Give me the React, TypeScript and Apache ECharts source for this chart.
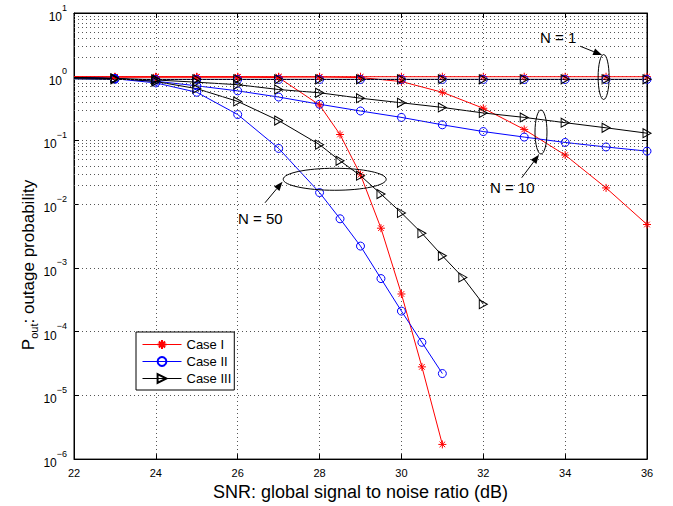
import React, { useEffect, useRef } from "react";
import * as echarts from "echarts";

const FONT = '"Liberation Sans", Arial, Helvetica, sans-serif';

// SNR grids (dB)
const snrFull = [22, 23, 24, 25, 26, 27, 28, 29, 30, 31, 32, 33, 34, 35, 36];
const snrN50a = [22, 23, 24, 25, 26, 27, 28, 28.5, 29, 29.5, 30, 30.5, 31];
const snrN50b = [22, 23, 24, 25, 26, 27, 28, 28.5, 29, 29.5, 30, 30.5, 31, 31.5, 32];

// Case I (red, *)
const caseI_N1 = [1, 1, 1, 1, 1, 1, 1, 1, 1, 1, 1, 1, 1, 1, 1];
const caseI_N10 = [0.99, 0.99, 0.99, 0.99, 0.99, 0.99, 0.99, 0.97, 0.84, 0.57, 0.32, 0.149, 0.059, 0.018, 0.0048];
const caseI_N50 = [0.99, 0.99, 0.99, 0.99, 0.99, 0.97, 0.36, 0.124, 0.029, 0.0042, 0.00039, 2.8e-5, 1.7e-6];

// Case II (blue, o)
const caseII_N1 = [0.93, 0.91, 0.905, 0.905, 0.905, 0.905, 0.905, 0.905, 0.905, 0.905, 0.905, 0.905, 0.905, 0.905, 0.905];
const caseII_N10 = [0.97, 0.94, 0.85, 0.72, 0.6, 0.48, 0.37, 0.29, 0.23, 0.176, 0.138, 0.113, 0.093, 0.079, 0.068];
const caseII_N50 = [0.97, 0.93, 0.8, 0.57, 0.255, 0.075, 0.0152, 0.0059, 0.0022, 0.00068, 0.00021, 6.8e-5, 2.2e-5];

// Case III (black, >)
const caseIII_N1 = [0.93, 0.91, 0.91, 0.91, 0.91, 0.91, 0.91, 0.91, 0.91, 0.91, 0.91, 0.91, 0.91, 0.91, 0.91];
const caseIII_N10 = [0.97, 0.94, 0.89, 0.82, 0.75, 0.63, 0.56, 0.46, 0.39, 0.33, 0.27, 0.23, 0.19, 0.158, 0.13];
const caseIII_N50 = [0.97, 0.94, 0.84, 0.65, 0.41, 0.205, 0.086, 0.048, 0.028, 0.0144, 0.0073, 0.0035, 0.00155, 0.00071, 0.00027];

const legendNames = ["Case I", "Case II", "Case III"];
const xTicks = { min: 22, max: 36, interval: 2 };
const yRange = { min: 1e-6, max: 10 };
const minorDecades = [-6, -5, -4, -3, -2, -1, 0];
const minorMantissas = [2, 3, 4, 5, 6, 7, 8, 9];

const ASTERISK = "path://M5,0L5,10M0,5L10,5M1.5,1.5L8.5,8.5M1.5,8.5L8.5,1.5";
const TRIANGLE = "path://M0,0L10,5L0,10Z";

const styles: Record<string, any> = {
  "Case I": { color: "#ff0000", symbol: ASTERISK, symbolSize: 8 },
  "Case II": { color: "#0000ff", symbol: "circle", symbolSize: 8 },
  "Case III": { color: "#000000", symbol: TRIANGLE, symbolSize: [8, 9] },
};

function makeSeries(name: string, xs: number[], ys: number[]) {
  const st = styles[name];
  return {
    name,
    type: "line",
    xAxisIndex: 0,
    yAxisIndex: 0,
    symbol: st.symbol,
    symbolSize: st.symbolSize,
    showAllSymbol: true,
    lineStyle: { color: st.color, width: 1 },
    itemStyle: { color: "rgba(0,0,0,0)", borderColor: st.color, borderWidth: 1 },
    emphasis: { disabled: true },
    data: xs.map((x, i) => (i === 0 ? { value: [x, ys[i]], symbol: "none" } : [x, ys[i]])),
    z: 3,
  };
}

function arrow(x1: number, y1: number, x2: number, y2: number) {
  const dx = x2 - x1, dy = y2 - y1;
  const L = Math.hypot(dx, dy);
  const ux = dx / L, uy = dy / L;
  const hl = 9, hw = 3.5;
  const bx = x2 - ux * hl, by = y2 - uy * hl;
  return [
    { type: "line", shape: { x1, y1, x2: bx, y2: by }, style: { stroke: "#000", lineWidth: 1 }, z: 10 },
    {
      type: "polygon",
      shape: { points: [[x2, y2], [bx - uy * hw, by + ux * hw], [bx + uy * hw, by - ux * hw]] },
      style: { fill: "#000" },
      z: 10,
    },
  ];
}

export default function App() {
  const ref = useRef<HTMLDivElement>(null);
  useEffect(() => {
    if (!ref.current) return;
    const chart = echarts.init(ref.current, undefined, { renderer: "svg" });
    const minorLines: any[] = [];
    minorDecades.forEach((k) => minorMantissas.forEach((m) => minorLines.push({ yAxis: m * Math.pow(10, k) })));
    const gridLine = { show: true, lineStyle: { color: "#555", type: [1, 3], width: 1 } };
    const supLabel = (v: number) => {
      const e = Math.round(Math.log10(v));
      return "{b|10}{s|" + (e < 0 ? "\u2212" + -e : String(e)) + "}";
    };
    chart.setOption({
      animation: false,
      backgroundColor: "#fff",
      textStyle: { fontFamily: FONT },
      grid: { left: 74, right: 26, top: 13, bottom: 42, show: true, borderColor: "#000", borderWidth: 1, backgroundColor: "#fff" },
      legend: {
        data: legendNames,
        orient: "vertical",
        left: 136,
        top: 332,
        itemWidth: 39,
        itemHeight: 11,
        itemGap: 4,
        padding: [6, 3, 5, 6],
        borderColor: "#000",
        borderWidth: 1,
        backgroundColor: "#fff",
        lineStyle: { width: 1 },
        textStyle: { fontSize: 13, fontFamily: FONT, color: "#000" },
        selectedMode: false,
        z: 20,
      },
      xAxis: [
        {
          type: "value",
          ...xTicks,
          position: "bottom",
          name: "SNR: global signal to noise ratio (dB)",
          nameLocation: "middle",
          nameGap: 22,
          nameTextStyle: { fontSize: 18, color: "#000", fontFamily: FONT },
          axisLine: { show: true, lineStyle: { color: "#000" } },
          axisTick: { show: true, inside: true, length: 5, lineStyle: { color: "#000" } },
          axisLabel: { fontSize: 11, color: "#000", margin: 8, fontFamily: FONT },
          splitLine: gridLine,
        },
        {
          type: "value",
          ...xTicks,
          position: "top",
          axisLine: { show: true, lineStyle: { color: "#000" } },
          axisTick: { show: true, inside: true, length: 5, lineStyle: { color: "#000" } },
          axisLabel: { show: false },
          splitLine: { show: false },
        },
      ],
      yAxis: [
        {
          type: "log",
          logBase: 10,
          ...yRange,
          splitNumber: 7,
          axisLine: { show: true, lineStyle: { color: "#000" } },
          axisTick: { show: true, inside: true, length: 5, lineStyle: { color: "#000" } },
          axisLabel: {
            formatter: supLabel,
            margin: 7,
            color: "#000",
            rich: {
              b: { fontSize: 12, fontFamily: FONT, color: "#000", lineHeight: 20, verticalAlign: "bottom" },
              s: { fontSize: 9, fontFamily: FONT, color: "#000", lineHeight: 20, verticalAlign: "top" },
            },
          },
          splitLine: gridLine,
        },
        {
          type: "log",
          logBase: 10,
          ...yRange,
          splitNumber: 7,
          position: "right",
          axisLine: { show: true, lineStyle: { color: "#000" } },
          axisTick: { show: true, inside: true, length: 5, lineStyle: { color: "#000" } },
          axisLabel: { show: false },
          splitLine: { show: false },
        },
      ],
      series: [
        {
          name: "minor-grid",
          type: "line",
          data: [],
          z: 1,
          silent: true,
          markLine: {
            silent: true,
            symbol: ["none", "none"],
            label: { show: false },
            lineStyle: { color: "#555", type: [1, 3], width: 1 },
            emphasis: { disabled: true },
            animation: false,
            data: minorLines,
          },
        },
        makeSeries("Case I", snrFull, caseI_N1),
        makeSeries("Case I", snrFull, caseI_N10),
        makeSeries("Case I", snrN50a, caseI_N50),
        makeSeries("Case II", snrFull, caseII_N1),
        makeSeries("Case II", snrFull, caseII_N10),
        makeSeries("Case II", snrN50a, caseII_N50),
        makeSeries("Case III", snrFull, caseIII_N1),
        makeSeries("Case III", snrFull, caseIII_N10),
        makeSeries("Case III", snrN50b, caseIII_N50),
      ],
    });

    // annotations anchored on data coordinates
    const px = (x: number, y: number) => chart.convertToPixel({ xAxisIndex: 0, yAxisIndex: 0 }, [x, y]) as number[];
    const e1 = px(34.94, 0.99);
    const e10 = px(33.41, 0.1355);
    const e50 = px(28.37, 0.0246);
    const textStyle = (t: string) => ({ text: t, fill: "#000", font: `15px ${FONT}`, verticalAlign: "middle", align: "left" });
    const graphic: any[] = [
      { type: "ellipse", shape: { cx: e1[0], cy: e1[1], rx: 5.5, ry: 22.5 }, style: { fill: "none", stroke: "#000", lineWidth: 1 }, z: 10 },
      ...arrow(e1[0] - 23.5, e1[1] - 30.8, e1[0] - 1.5, e1[1] - 22),
      { type: "text", x: e1[0] - 63.5, y: e1[1] - 39.5, style: textStyle("N = 1"), z: 10 },
      { type: "ellipse", shape: { cx: e10[0], cy: e10[1], rx: 6, ry: 22 }, style: { fill: "none", stroke: "#000", lineWidth: 1 }, z: 10 },
      ...arrow(e10[0] - 19.3, e10[1] + 45.7, e10[0] - 2, e10[1] + 22.7),
      { type: "text", x: e10[0] - 51, y: e10[1] + 55.7, style: textStyle("N = 10"), z: 10 },
      { type: "ellipse", shape: { cx: e50[0], cy: e50[1], rx: 51.5, ry: 11 }, style: { fill: "none", stroke: "#000", lineWidth: 1 }, z: 10 },
      ...arrow(e50[0] - 69.7, e50[1] + 23.5, e50[0] - 52.2, e50[1] + 2.5),
      { type: "text", x: e50[0] - 96.7, y: e50[1] + 39, style: textStyle("N = 50"), z: 10 },
      {
        type: "text",
        x: 28,
        y: 265,
        rotation: Math.PI / 2,
        style: {
          text: "{p|P}{sub|out}{p|: outage probability}",
          align: "center",
          verticalAlign: "middle",
          fill: "#000",
          rich: {
            p: { fontSize: 17, fontFamily: FONT, fill: "#000", lineHeight: 22, verticalAlign: "middle" },
            sub: { fontSize: 11, fontFamily: FONT, fill: "#000", lineHeight: 22, verticalAlign: "bottom" },
          },
        },
        z: 10,
      },
    ];
    chart.setOption({ graphic });
    return () => chart.dispose();
  }, []);
  return <div ref={ref} style={{ position: "fixed", left: 0, top: 0, width: 673, height: 506 }} />;
}
